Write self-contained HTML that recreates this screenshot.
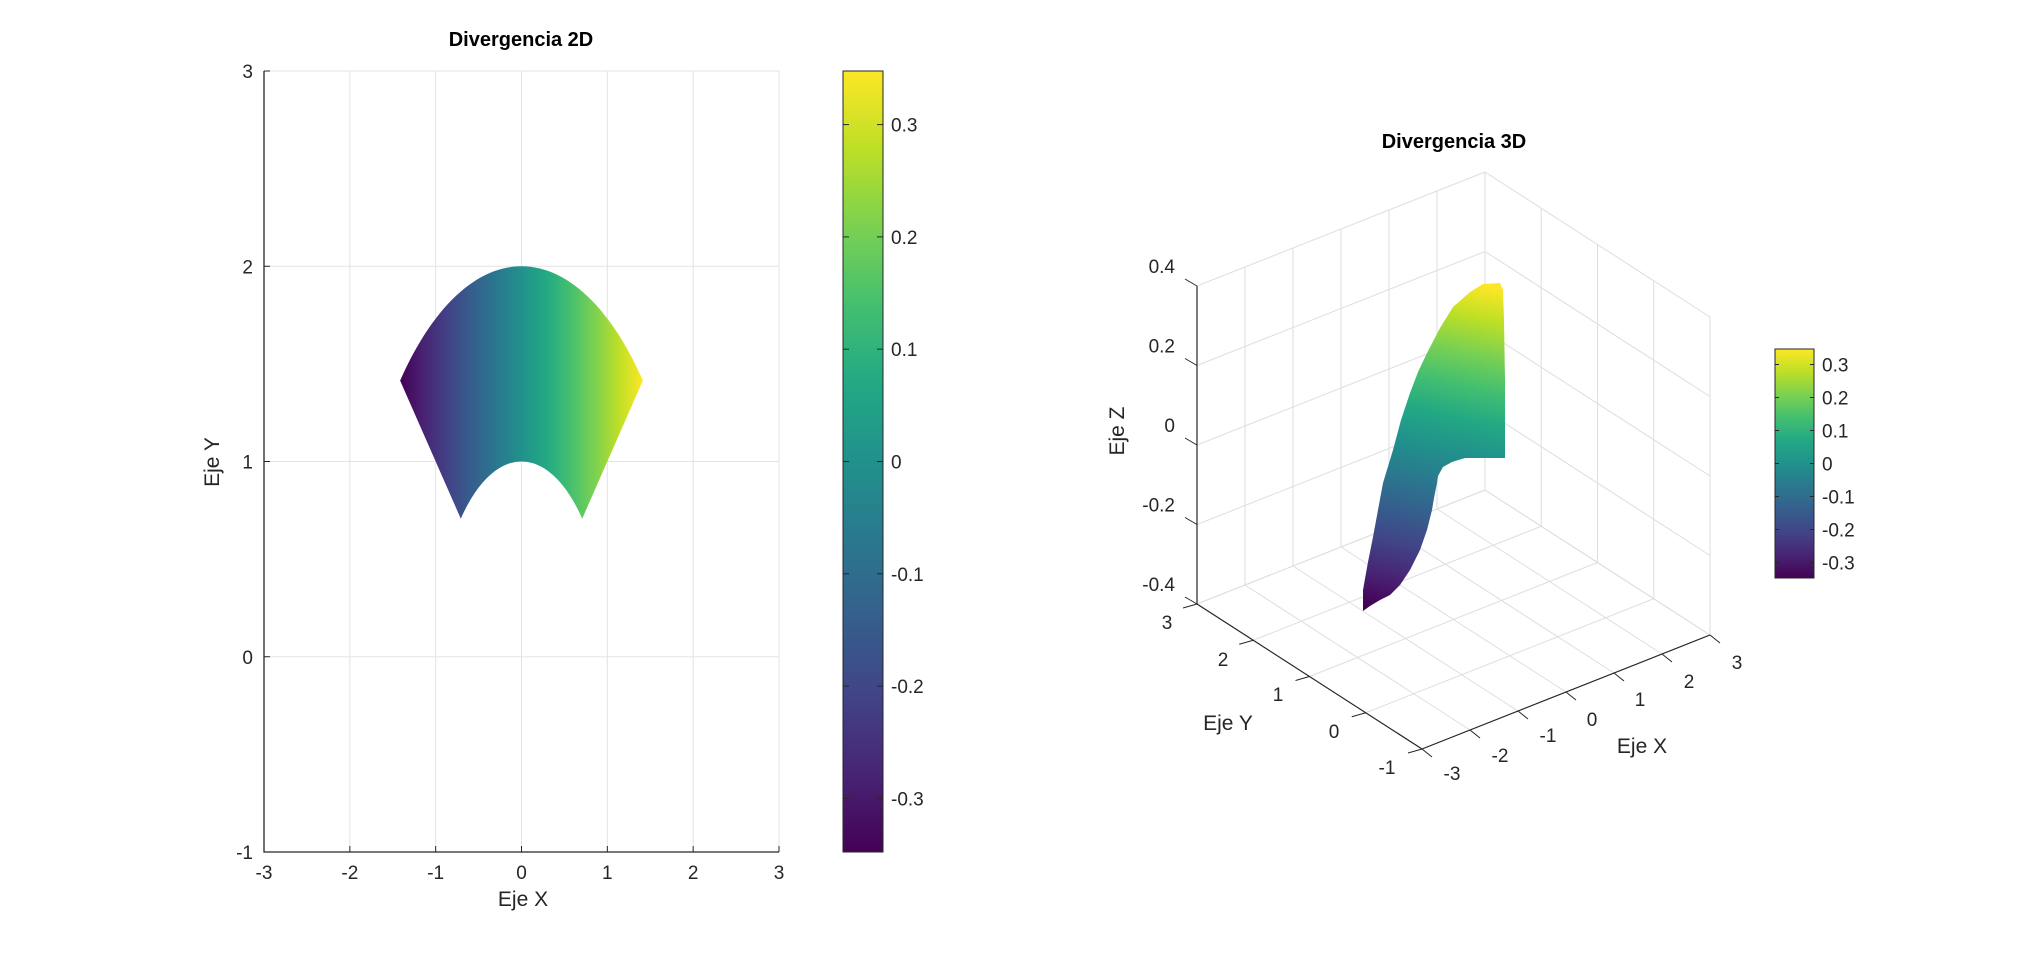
<!DOCTYPE html>
<html><head><meta charset="utf-8">
<style>
html,body{margin:0;padding:0;background:#fff;}
svg{display:block;font-family:"Liberation Sans",sans-serif;}
</style></head>
<body>
<svg id="s" width="2034" height="957" viewBox="0 0 2034 957" xmlns="http://www.w3.org/2000/svg">
<defs>
<linearGradient id="gx" gradientUnits="userSpaceOnUse" x1="400.2" y1="0" x2="642.8" y2="0">
<stop offset="0" stop-color="#440154"/><stop offset="0.1" stop-color="#482475"/><stop offset="0.2" stop-color="#414487"/><stop offset="0.3" stop-color="#355f8d"/><stop offset="0.4" stop-color="#2a788e"/><stop offset="0.5" stop-color="#21918c"/><stop offset="0.6" stop-color="#22a884"/><stop offset="0.7" stop-color="#44bf70"/><stop offset="0.8" stop-color="#7ad151"/><stop offset="0.9" stop-color="#bddf26"/><stop offset="1" stop-color="#fde725"/>
</linearGradient>
<linearGradient id="gs" gradientUnits="userSpaceOnUse" x1="1395" y1="612" x2="1470" y2="282">
<stop offset="0" stop-color="#440154"/><stop offset="0.1" stop-color="#482475"/><stop offset="0.2" stop-color="#414487"/><stop offset="0.3" stop-color="#355f8d"/><stop offset="0.4" stop-color="#2a788e"/><stop offset="0.5" stop-color="#21918c"/><stop offset="0.6" stop-color="#22a884"/><stop offset="0.7" stop-color="#44bf70"/><stop offset="0.8" stop-color="#7ad151"/><stop offset="0.9" stop-color="#bddf26"/><stop offset="1" stop-color="#fde725"/>
</linearGradient>
<linearGradient id="gv" x1="0" y1="1" x2="0" y2="0">
<stop offset="0" stop-color="#440154"/><stop offset="0.1" stop-color="#482475"/><stop offset="0.2" stop-color="#414487"/><stop offset="0.3" stop-color="#355f8d"/><stop offset="0.4" stop-color="#2a788e"/><stop offset="0.5" stop-color="#21918c"/><stop offset="0.6" stop-color="#22a884"/><stop offset="0.7" stop-color="#44bf70"/><stop offset="0.8" stop-color="#7ad151"/><stop offset="0.9" stop-color="#bddf26"/><stop offset="1" stop-color="#fde725"/>
</linearGradient>
</defs>
<g id="g2d"></g>
<g id="g3d"></g>
</svg>
<script>
var NS="http://www.w3.org/2000/svg";
function el(p,t,a,txt){var e=document.createElementNS(NS,t);for(var k in a)e.setAttribute(k,a[k]);if(txt!==undefined)e.textContent=txt;p.appendChild(e);return e;}
var G=document.getElementById('g2d');
var L=264,R=779,T=71,B=852;
function px(x){return 521.5+x*85.83;}
function py(y){return B-(y+1)*195.25;}
for(var i=-3;i<=3;i++){el(G,'line',{x1:px(i),y1:T,x2:px(i),y2:B,stroke:'#e3e3e3','stroke-width':1});}
for(var j=-1;j<=3;j++){el(G,'line',{x1:L,y1:py(j),x2:R,y2:py(j),stroke:'#e3e3e3','stroke-width':1});}
var d='';var N=60;
for(var k=0;k<=N;k++){var t=Math.PI/4+k/N*Math.PI/2;d+=(k?'L':'M')+px(2*Math.cos(t)).toFixed(2)+','+py(2*Math.sin(t)).toFixed(2);}
for(var k=N;k>=0;k--){var t=Math.PI/4+k/N*Math.PI/2;d+='L'+px(Math.cos(t)).toFixed(2)+','+py(Math.sin(t)).toFixed(2);}
el(G,'path',{d:d+'Z',fill:'url(#gx)'});
el(G,'path',{d:'M'+L+','+T+'V'+B+'H'+R,fill:'none',stroke:'#262626','stroke-width':1.3});
for(var i=-3;i<=3;i++){el(G,'line',{x1:px(i),y1:B,x2:px(i),y2:B-6,stroke:'#262626'});el(G,'text',{x:px(i),y:879,'font-size':19,'text-anchor':'middle',fill:'#262626'},String(i));}
for(var j=-1;j<=3;j++){el(G,'line',{x1:L,y1:py(j),x2:L+6,y2:py(j),stroke:'#262626'});el(G,'text',{x:253,y:py(j)+7,'font-size':19,'text-anchor':'end',fill:'#262626'},String(j));}
el(G,'text',{x:523,y:906,'font-size':21,'text-anchor':'middle',fill:'#262626'},'Eje X');
el(G,'text',{x:0,y:0,'font-size':21,'text-anchor':'middle',fill:'#262626',transform:'translate(219,462) rotate(-90)'},'Eje Y');
el(G,'text',{x:521,y:46,'font-size':20,'font-weight':'bold','text-anchor':'middle',fill:'#000'},'Divergencia 2D');
el(G,'rect',{x:843,y:71,width:40,height:781,fill:'url(#gv)',stroke:'#262626','stroke-width':1});
var vals=[0.3,0.2,0.1,0,-0.1,-0.2,-0.3];
vals.forEach(function(v){var y=461.5-v*1123;el(G,'line',{x1:843,y1:y,x2:849,y2:y,stroke:'#262626'});el(G,'line',{x1:883,y1:y,x2:877,y2:y,stroke:'#262626'});el(G,'text',{x:891,y:y+7,'font-size':19,fill:'#262626'},String(v));});
// 3D
var H=document.getElementById('g3d');
function P(x,y,z){return [1197+(x+3)*48+(3-y)*56.25, 604-(x+3)*19+(3-y)*36.25-(z+0.4)*397.5];}
function ln(a,b,c,w){el(H,'line',{x1:a[0].toFixed(2),y1:a[1].toFixed(2),x2:b[0].toFixed(2),y2:b[1].toFixed(2),stroke:c,'stroke-width':w||1});}
var gc='#dedede';
for(var x=-3;x<=3;x++){ln(P(x,-1,-0.4),P(x,3,-0.4),gc);ln(P(x,3,-0.4),P(x,3,0.4),gc);}
for(var y=-1;y<=3;y++){ln(P(-3,y,-0.4),P(3,y,-0.4),gc);ln(P(3,y,-0.4),P(3,y,0.4),gc);}
for(var z=-0.4;z<=0.41;z+=0.2){ln(P(-3,3,z),P(3,3,z),gc);ln(P(3,3,z),P(3,-1,z),gc);}
// surface outline (traced)
var pts=[[1363,611],[1363,590],[1368,562],[1373,537],[1378,510],[1383,483],[1393,450],[1401,420],[1410,393],[1418,372],[1427,353],[1440,328],[1453,307],[1470,292],[1483,284],[1500,283],[1503,290],[1504,320],[1505,380],[1505,458],[1480,458],[1465,458],[1452,462],[1443,467],[1438,476],[1437,483],[1434,498],[1432,510],[1427,530],[1420,550],[1410,570],[1400,585],[1390,595],[1380,600],[1370,606],[1363,611]];
el(H,'polygon',{points:pts.map(function(p){return p.join(',');}).join(' '),fill:'url(#gs)'});
var ac='#262626';
ln(P(-3,3,-0.4),P(-3,3,0.4),ac,1.2);ln(P(-3,3,-0.4),P(-3,-1,-0.4),ac,1.2);ln(P(-3,-1,-0.4),P(3,-1,-0.4),ac,1.2);
var zl=['-0.4','-0.2','0','0.2','0.4'];
for(var k=0;k<5;k++){var z=-0.4+k*0.2;var p=P(-3,3,z);ln(p,[p[0]-12,p[1]-7],ac);el(H,'text',{x:1175,y:p[1]-13,'font-size':19,'text-anchor':'end',fill:'#262626'},zl[k]);}
var yl=[[3,1167,629],[2,1223,666],[1,1278,701],[0,1334,738],[-1,1387,774]];
yl.forEach(function(a){var p=P(-3,a[0],-0.4);ln(p,[p[0]-14,p[1]+4],ac);el(H,'text',{x:a[1],y:a[2],'font-size':19,'text-anchor':'middle',fill:'#262626'},String(a[0]));});
var xl=[[-3,1452,780],[-2,1500,762],[-1,1548,742],[0,1592,726],[1,1640,706],[2,1689,688],[3,1737,669]];
xl.forEach(function(a){var p=P(a[0],-1,-0.4);ln(p,[p[0]+10,p[1]+8],ac);el(H,'text',{x:a[1],y:a[2],'font-size':19,'text-anchor':'middle',fill:'#262626'},String(a[0]));});
el(H,'text',{x:1228,y:730,'font-size':21,'text-anchor':'middle',fill:'#262626'},'Eje Y');
el(H,'text',{x:1642,y:753,'font-size':21,'text-anchor':'middle',fill:'#262626'},'Eje X');
el(H,'text',{x:0,y:0,'font-size':21,'text-anchor':'middle',fill:'#262626',transform:'translate(1124,431) rotate(-90)'},'Eje Z');
el(H,'text',{x:1454,y:148,'font-size':20,'font-weight':'bold','text-anchor':'middle',fill:'#000'},'Divergencia 3D');
el(H,'rect',{x:1775,y:349,width:39,height:229,fill:'url(#gv)',stroke:'#262626','stroke-width':1});
vals.forEach(function(v){var y=463.5-v*330;el(H,'line',{x1:1775,y1:y,x2:1779,y2:y,stroke:'#262626'});el(H,'line',{x1:1814,y1:y,x2:1810,y2:y,stroke:'#262626'});el(H,'text',{x:1822,y:y+7,'font-size':19,fill:'#262626'},String(v));});
</script>
</body></html>
